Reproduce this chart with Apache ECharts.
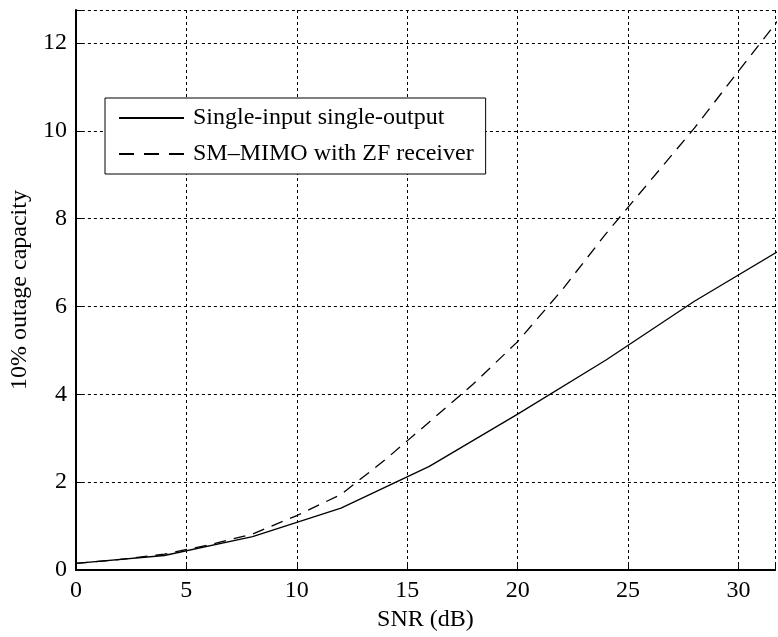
<!DOCTYPE html>
<html>
<head>
<meta charset="utf-8">
<script src="https://cdn.jsdelivr.net/npm/echarts@6/dist/echarts.min.js"></script>
<style>
html,body{margin:0;padding:0;background:#fff;}
#chart{width:778px;height:637px;}
</style>
</head>
<body>
<div id="chart"></div>
<script>
// Data
const sisoSnr = [0, 4, 8, 12, 16, 20, 24, 28, 32];
const sisoCap = [0.15, 0.33, 0.76, 1.41, 2.36, 3.55, 4.78, 6.12, 7.32];
const zfSnr = [0, 2, 4, 6, 8, 10, 12, 14, 16, 18, 20, 22, 24, 26, 28, 30, 32];
const zfCap = [0.15, 0.24, 0.36, 0.57, 0.82, 1.24, 1.72, 2.51, 3.37, 4.24, 5.2, 6.37, 7.66, 8.86, 10.06, 11.36, 12.65];
const seriesNames = ['Single-input single-output', 'SM\u2013MIMO with ZF receiver'];
const xTicks = [0, 5, 10, 15, 20, 25, 30];
const yTicks = [0, 2, 4, 6, 8, 10, 12];

const FONT = "'Liberation Serif', 'Times New Roman', serif";
const FS = 24;
const pair = (xs, ys) => xs.map((x, i) => [x, ys[i]]);

const chart = echarts.init(document.getElementById('chart'), null, {renderer: 'canvas'});
const gridLine = {show: true, lineStyle: {color: '#000', width: 1, type: [3, 3]}};
chart.setOption({
  animation: false,
  backgroundColor: '#fff',
  grid: {left: 70, right: 0, top: 10, bottom: 62, containLabel: false},
  legend: {
    orient: 'vertical',
    left: 105, top: 98,
    padding: [8, 12, 8, 13],
    itemWidth: 65, itemHeight: 24, itemGap: 12,
    backgroundColor: '#fff',
    borderColor: '#000', borderWidth: 1,
    itemStyle: {opacity: 0},
    textStyle: {fontFamily: FONT, fontSize: FS, color: '#000', padding: [0, 0, 0, 4]},
    data: [
      {name: seriesNames[0]},
      {name: seriesNames[1], lineStyle: {type: [15, 10]}}
    ]
  },
  xAxis: [{
    type: 'value', min: 0, max: 31.65, interval: 5,
    name: 'SNR (dB)', nameLocation: 'middle', nameGap: 38,
    nameTextStyle: {fontFamily: FONT, fontSize: FS, color: '#000'},
    axisLine: {show: true, onZero: false, lineStyle: {color: '#000', width: 2}},
    axisTick: {show: true, inside: true, length: 7, lineStyle: {color: '#000'}},
    axisLabel: {fontFamily: FONT, fontSize: FS, color: '#000', margin: 9,
      formatter: v => xTicks.includes(v) ? String(v) : ''},
    splitLine: gridLine
  }, {
    type: 'value', min: 0, max: 31.65, interval: 5, position: 'top',
    axisLine: {show: true, lineStyle: {color: '#000', width: 2}},
    axisTick: {show: false}, axisLabel: {show: false}, splitLine: {show: false}
  }],
  yAxis: {
    type: 'value', min: 0, max: 12.75, interval: 2,
    name: '10% outage capacity', nameLocation: 'middle', nameGap: 40,
    nameTextStyle: {fontFamily: FONT, fontSize: FS, color: '#000'},
    axisLine: {show: true, onZero: false, lineStyle: {color: '#000', width: 2}},
    axisTick: {show: true, inside: true, length: 7, lineStyle: {color: '#000'}},
    axisLabel: {fontFamily: FONT, fontSize: FS, color: '#000', margin: 9,
      formatter: v => yTicks.includes(v) ? String(v) : ''},
    splitLine: gridLine
  },
  series: [{
    name: seriesNames[0], type: 'line', xAxisIndex: 0,
    data: pair(sisoSnr, sisoCap), symbol: 'none', smooth: false,
    lineStyle: {color: '#000', width: 1.3, type: 'solid'}, itemStyle: {color: '#000'}
  }, {
    name: seriesNames[1], type: 'line', xAxisIndex: 0,
    data: pair(zfSnr, zfCap), symbol: 'none', smooth: false,
    lineStyle: {color: '#000', width: 1.3, type: [12, 8]}, itemStyle: {color: '#000'}
  }]
});
</script>
</body>
</html>
